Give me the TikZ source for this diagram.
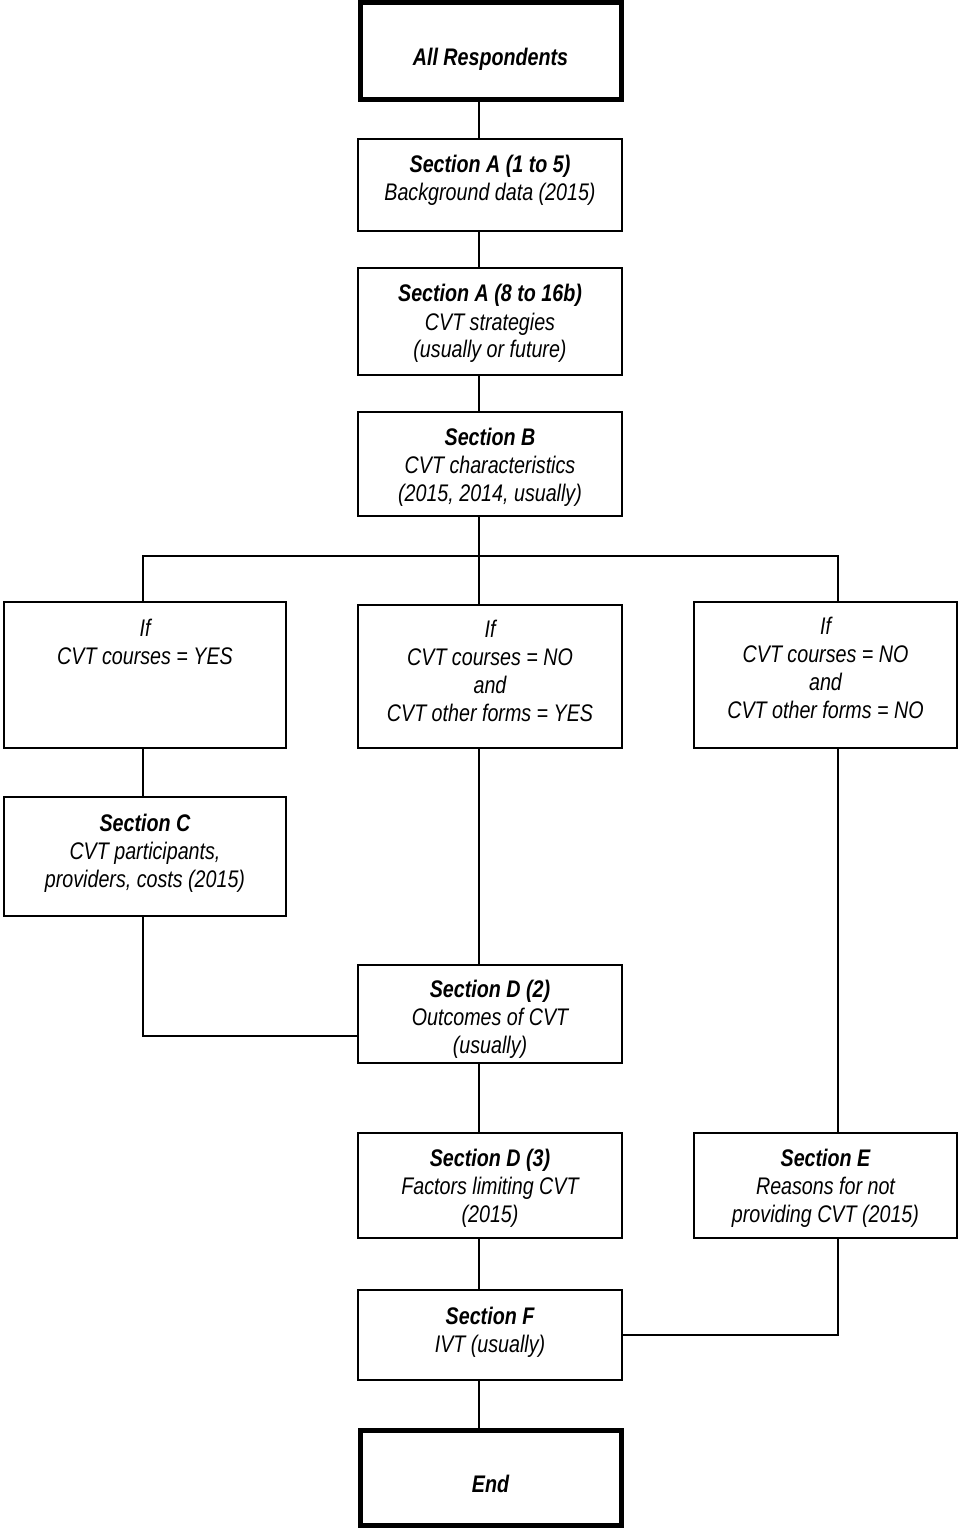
\documentclass[tikz,border=0pt]{standalone}
\usepackage{fontspec}
\setmainfont{Liberation Sans}[FakeStretch=0.82]
\usetikzlibrary{positioning}

\begin{document}
\begin{tikzpicture}[
	x=0.5pt, y=-0.5pt,
	box/.style={
		rectangle,
		draw=black,
		line width=1pt,
		align=center,
		inner sep=0pt,
		font=\itshape\fontsize{12}{14}\selectfont,
		minimum width=132pt,
		minimum height=50pt
	},
	terminal/.style={
		box,
		line width=2.5pt,
		font=\bfseries\itshape\fontsize{12}{14}\selectfont,
		minimum width=130.5pt
	},
	lastline/.style={
		text height=#1,
		text depth=0pt
	},
	link/.style={
		line width=1pt
	},
]

\useasboundingbox (0,0) rectangle (958,1529);

\coordinate (trunk) at (479,0);
\coordinate (lcol) at (143,0);
\coordinate (rcol) at (838,0);
\coordinate (split) at (479,556);

\node[terminal, lastline=14.5pt, minimum height=48.5pt] (all) at (490.5,51.5) {All Respondents};

\node[box, lastline=16pt, minimum height=46pt] (secA1) at (490,185) {\textbf{Section A (1 to 5)}\\Background data (2015)};
\node[box, lastline=36.5pt, minimum height=53.5pt] (secA2) at (490,321.5) {\textbf{Section A (8 to 16b)}\\CVT strategies\\(usually or future)};
\node[box, lastline=37pt, minimum height=52pt] (secB) at (490,464) {\textbf{Section B}\\CVT characteristics\\(2015, 2014, usually)};

\node[box, text height=0pt, text depth=11pt, minimum width=141pt, minimum height=73pt] (ifyes) at (145,675) {If\\CVT courses = YES};
\node[box, lastline=44.5pt, minimum height=71.5pt] (ifno) at (490,676.5) {If\\CVT courses = NO\\and\\CVT other forms = YES};
\node[box, lastline=43pt, minimum width=131.5pt, minimum height=73pt] (ifnono) at (825.5,675) {If\\CVT courses = NO\\and\\CVT other forms = NO};

\node[box, lastline=30.5pt, minimum width=141pt, minimum height=59.5pt] (secC) at (145,856.5) {\textbf{Section C}\\CVT participants,\\providers, costs (2015)};
\node[box, lastline=39pt, minimum height=49pt] (secD2) at (490,1014) {\textbf{Section D (2)}\\Outcomes of CVT\\(usually)};
\node[box, lastline=36.5pt, minimum height=52.5pt] (secD3) at (490,1185.5) {\textbf{Section D (3)}\\Factors limiting CVT\\(2015)};
\node[box, lastline=36.5pt, minimum width=131.5pt, minimum height=52.5pt] (secE) at (825.5,1185.5) {\textbf{Section E}\\Reasons for not\\providing CVT (2015)};
\node[box, lastline=17pt, minimum height=45pt] (secF) at (490,1335) {\textbf{Section F}\\IVT (usually)};

\node[terminal, lastline=14.5pt, minimum height=47.5pt] (end) at (490.5,1477.5) {End};

\draw[link] (all.south -| trunk) -- (secA1.north -| trunk);
\draw[link] (secA1.south -| trunk) -- (secA2.north -| trunk);
\draw[link] (secA2.south -| trunk) -- (secB.north -| trunk);
\draw[link] (secB.south -| trunk) -- (ifno.north -| trunk);
\draw[link] (ifyes.north -| lcol) |- (split) -| (ifnono.north -| rcol);

\draw[link] (ifyes.south -| lcol) -- (secC.north -| lcol);
\draw[link] (secC.south -| lcol) |- ([yshift=-11pt]secD2.west);
\draw[link] (ifno.south -| trunk) -- (secD2.north -| trunk);
\draw[link] (secD2.south -| trunk) -- (secD3.north -| trunk);
\draw[link] (ifnono.south -| rcol) -- (secE.north -| rcol);

\draw[link] (secD3.south -| trunk) -- (secF.north -| trunk);
\draw[link] (secE.south -| rcol) |- (secF.east);
\draw[link] (secF.south -| trunk) -- (end.north -| trunk);

\end{tikzpicture}
\end{document}
